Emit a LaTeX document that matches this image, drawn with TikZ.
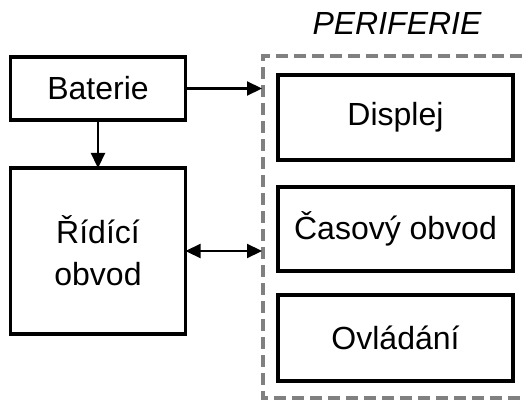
\documentclass[tikz,border=0pt]{standalone}
\usepackage{fontspec}
\setmainfont{Liberation Sans}
\usetikzlibrary{arrows.meta}
\tikzset{
  blockbox/.style={draw=black, line width=3.4pt, fill=white, inner sep=0pt, outer sep=0pt,
    align=center, font=\fontsize{32}{42}\selectfont},
  tip/.style={Triangle[length=15pt,width=14pt]},
  link/.style={line width=2.2pt, -{Triangle[length=15pt,width=14pt]}},
  biglink/.style={line width=2.2pt, {Triangle[length=15pt,width=14pt]}-{Triangle[length=15pt,width=14pt]}},
  group/.style={draw={rgb,255:red,128;green,128;blue,128}, line width=4.5pt, dash pattern=on 12pt off 6pt},
  title/.style={font=\fontsize{32}{38}\selectfont\itshape, anchor=base}
}
\begin{document}
\begin{tikzpicture}[x=1pt, y=-1pt]
  \useasboundingbox (0,0) rectangle (522,401);
  % peripheral group: open dashed frame running off to the right
  \begin{scope}
    \clip (0,0) rectangle (522,401);
    \draw[group] (540,56) -- (263,56) -- (263,398) -- (540,398);
  \end{scope}
  \node[title] (per) at (397,35) {PERIFERIE};
  % blocks
  \node[blockbox, minimum width=175pt, minimum height=63pt] (bat) at (98,88.5) {Baterie};
  \node[blockbox, minimum width=175pt, minimum height=166pt] (rid) at (98,251) {Řídící\\obvod};
  \node[blockbox, minimum width=235pt, minimum height=85pt] (dis) at (395.5,117.5) {Displej};
  \node[blockbox, minimum width=235pt, minimum height=84pt] (cas) at (395.5,229) {Časový obvod};
  \node[blockbox, minimum width=235pt, minimum height=86pt] (ovl) at (395.5,338) {Ovládání};
  % frame entry points
  \coordinate (inBat) at (262,88.5);
  \coordinate (inRid) at (262,251);
  % connectors
  \draw[link] (bat.east) -- (inBat);
  \draw[link] (bat.south) -- (rid.north);
  \draw[biglink] (rid.east) -- (inRid);
\end{tikzpicture}
\end{document}
